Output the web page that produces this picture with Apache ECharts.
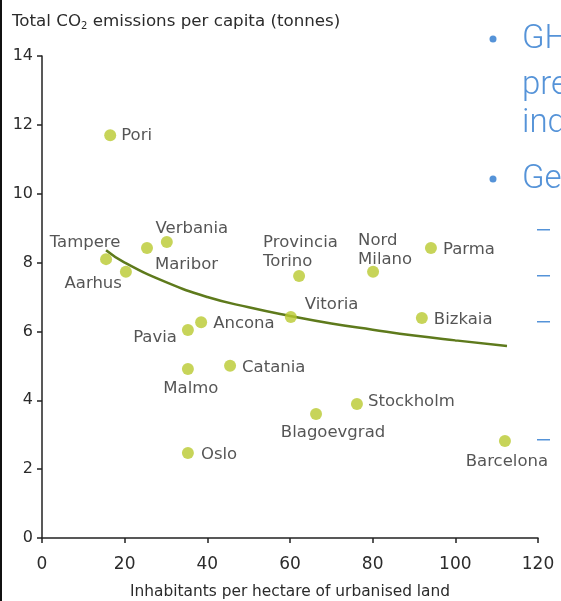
<!DOCTYPE html>
<html>
<head>
<meta charset="utf-8">
<script src="https://cdn.jsdelivr.net/npm/echarts@6/dist/echarts.min.js"></script>
<style>html,body{margin:0;padding:0;background:#fff}#c{width:561px;height:601px}</style>
</head>
<body>
<div id="c"></div>
<script>
// ---- data ----
const cities = ['Pori','Tampere','Aarhus','Maribor','Verbania','Pavia','Ancona','Malmo','Catania','Oslo',
  'Provincia Torino','Vitoria','Nord Milano','Parma','Bizkaia','Stockholm','Blagoevgrad','Barcelona'];
const density = [16.5,15.5,20.3,25.4,30.2,35.3,38.5,35.3,45.5,35.3,62.2,60.2,80.1,94.1,91.9,76.2,66.3,112];
const emissions = [11.7,8.1,7.73,8.42,8.6,6.04,6.27,4.91,5.0,2.47,7.61,6.42,7.73,8.42,6.39,3.89,3.6,2.82];
const trendX = [15.5,20,30,40,50,60,70,80,90,100,112.5];
const trendY = [8.36,8.0,7.43,7.0,6.7,6.45,6.23,6.05,5.88,5.74,5.58];
const xTicks = [0,20,40,60,80,100,120];
const yTicks = [0,2,4,6,8,10,12,14];

// ---- label layout (style only) ----
const labelLayout = {
  'Pori':[ 'left', 11, 1],
  'Tampere':['center',-21,-16],
  'Aarhus':['right',-4,12],
  'Maribor':['left',8,17],
  'Verbania':['center',25,-13],
  'Pavia':['right',-11,8],
  'Ancona':['left',12,2],
  'Malmo':['center',3,20],
  'Catania':['left',12,2],
  'Oslo':['left',13,2],
  'Provincia Torino':['left',-36,-24],
  'Vitoria':['left',14,-12],
  'Nord Milano':['left',-15,-22],
  'Parma':['left',12,2],
  'Bizkaia':['left',12,2],
  'Stockholm':['left',11,-2],
  'Blagoevgrad':['center',17,19],
  'Barcelona':['center',2,21]
};
const twoLine = {'Provincia Torino':'Provincia\nTorino','Nord Milano':'Nord\nMilano'};

const pts = cities.map((n,i)=>{
  const l = labelLayout[n];
  return {name:n, value:[density[i], emissions[i]],
    label:{show:true, position:'inside', align:l[0], verticalAlign:'middle', offset:[l[1],l[2]],
      formatter: twoLine[n] || n}};
});

const font = '"DejaVu Sans", Verdana, sans-serif';
const blue = '#5593D8';
const slideFont = 'Roboto, "Open Sans", sans-serif';
const chart = echarts.init(document.getElementById('c'), null, {renderer:'canvas'});
chart.setOption({
  animation:false,
  backgroundColor:'#fff',
  grid:{left:42,right:23,top:56,bottom:63,containLabel:false,outerBoundsMode:'none'},
  xAxis:{type:'value',min:0,max:120,interval:20,
    axisLine:{show:true,lineStyle:{color:'#222',width:1.5}},
    axisTick:{show:true,length:5,lineStyle:{color:'#222',width:1.5}},
    splitLine:{show:false},
    axisLabel:{color:'#2b2b2b',fontSize:17,fontFamily:font,margin:18,
      formatter:v=>xTicks.includes(v)?String(v):''},
    name:'Inhabitants per hectare of urbanised land',nameLocation:'middle',nameGap:46,
    nameTextStyle:{color:'#2b2b2b',fontSize:15.4,fontFamily:font}},
  yAxis:{type:'value',min:0,max:14,interval:2,
    axisLine:{show:true,lineStyle:{color:'#222',width:1.5}},
    axisTick:{show:true,length:5,lineStyle:{color:'#222',width:1.5}},
    splitLine:{show:false},
    axisLabel:{color:'#2b2b2b',fontSize:16,fontFamily:font,margin:9,
      formatter:v=>yTicks.includes(v)?String(v):''}},
  graphic:[
    {type:'rect',left:0,top:0,shape:{width:2,height:601},style:{fill:'#111'}},
    {type:'text',left:12,top:13,style:{
      text:'Total CO{s|2} emissions per capita (tonnes)',
      rich:{s:{fontSize:10,fontFamily:font,fill:'#2b2b2b',padding:[9,0,0,0]}},
      fontSize:16.7,fontFamily:font,fill:'#2b2b2b'}},
    {type:'circle',shape:{cx:493,cy:39,r:3.5},style:{fill:blue}},
    {type:'circle',shape:{cx:493,cy:179,r:3.5},style:{fill:blue}},
    {type:'text',left:522,top:23,style:{text:'GH',fontSize:33,fontFamily:slideFont,fontWeight:300,fill:blue}},
    {type:'text',left:522,top:69,style:{text:'pre',fontSize:33,fontFamily:slideFont,fontWeight:300,fill:blue}},
    {type:'text',left:522,top:107,style:{text:'ind',fontSize:33,fontFamily:slideFont,fontWeight:300,fill:blue}},
    {type:'text',left:522,top:163,style:{text:'Ge',fontSize:33,fontFamily:slideFont,fontWeight:300,fill:blue}},
    {type:'rect',left:537,top:229,shape:{width:13,height:1.5},style:{fill:blue}},
    {type:'rect',left:537,top:275,shape:{width:13,height:1.5},style:{fill:blue}},
    {type:'rect',left:537,top:321,shape:{width:13,height:1.5},style:{fill:blue}},
    {type:'rect',left:537,top:439,shape:{width:13,height:1.5},style:{fill:blue}}
  ],
  series:[
    {type:'line',data:trendX.map((x,i)=>[x,trendY[i]]),smooth:true,showSymbol:false,symbol:'none',
      lineStyle:{color:'#5E7A1C',width:2.5},z:2},
    {type:'scatter',data:pts,symbolSize:12,itemStyle:{color:'#B9C92F'},z:3,
      label:{color:'#2b2b2b',fontSize:16.5,fontFamily:font,lineHeight:19}}
  ]
});
</script>
</body>
</html>
